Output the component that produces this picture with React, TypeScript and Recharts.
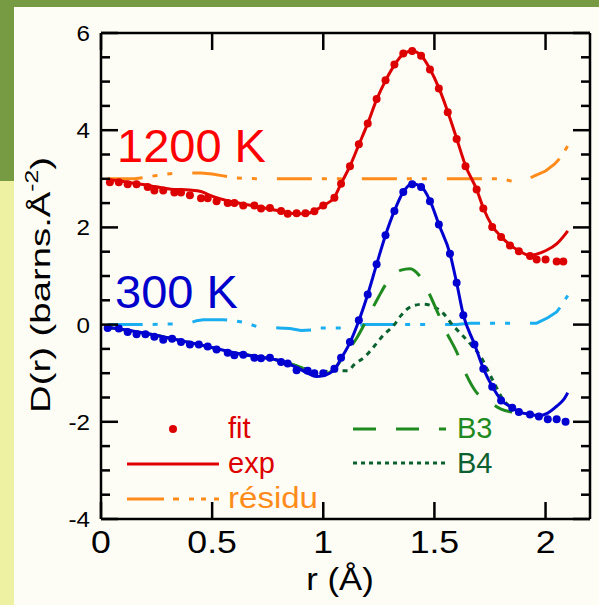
import { ComposedChart, Line, Scatter, XAxis, YAxis } from "recharts";

// 1200 K
const fitR1200 = [0.04, 0.08, 0.12, 0.16, 0.21, 0.24, 0.28, 0.33, 0.36, 0.4, 0.45, 0.48, 0.52, 0.57, 0.6, 0.64, 0.69, 0.72, 0.76, 0.81, 0.84, 0.88, 0.92, 0.96, 1.0, 1.05, 1.08, 1.12, 1.16, 1.2, 1.24, 1.28, 1.32, 1.36, 1.4, 1.44, 1.48, 1.52, 1.56, 1.6, 1.64, 1.69, 1.72, 1.76, 1.8, 1.84, 1.88, 1.93, 1.96, 2.0, 2.05, 2.08];
const fitD1200 = [2.93, 2.93, 2.89, 2.89, 2.83, 2.76, 2.76, 2.72, 2.72, 2.66, 2.6, 2.6, 2.54, 2.5, 2.5, 2.45, 2.45, 2.39, 2.4, 2.34, 2.28, 2.29, 2.29, 2.33, 2.45, 2.61, 2.9, 3.26, 3.71, 4.14, 4.64, 5.03, 5.35, 5.58, 5.63, 5.53, 5.25, 4.86, 4.37, 3.82, 3.26, 2.78, 2.39, 2.01, 1.8, 1.63, 1.51, 1.41, 1.34, 1.34, 1.3, 1.3];
const expR1200 = [0.03, 0.08, 0.12, 0.16, 0.21, 0.24, 0.28, 0.33, 0.36, 0.4, 0.45, 0.48, 0.52, 0.57, 0.6, 0.64, 0.69, 0.72, 0.76, 0.81, 0.84, 0.88, 0.92, 0.96, 1.0, 1.05, 1.08, 1.12, 1.16, 1.2, 1.24, 1.28, 1.32, 1.36, 1.4, 1.44, 1.48, 1.52, 1.56, 1.6, 1.64, 1.69, 1.72, 1.76, 1.8, 1.84, 1.88, 1.93, 1.96, 2.0, 2.05, 2.08, 2.1];
const expD1200 = [2.98, 2.96, 2.93, 2.9, 2.87, 2.84, 2.81, 2.78, 2.78, 2.77, 2.74, 2.68, 2.61, 2.55, 2.52, 2.48, 2.44, 2.41, 2.38, 2.33, 2.3, 2.28, 2.28, 2.34, 2.45, 2.62, 2.9, 3.26, 3.7, 4.14, 4.63, 5.02, 5.34, 5.57, 5.63, 5.54, 5.26, 4.87, 4.38, 3.83, 3.27, 2.78, 2.4, 2.03, 1.81, 1.64, 1.52, 1.42, 1.45, 1.52, 1.66, 1.81, 1.93];
const resR1200 = [0.03, 0.1, 0.15, 0.2, 0.25, 0.3, 0.35, 0.4, 0.45, 0.5, 0.55, 0.6, 0.7, 0.8, 0.9, 1.0, 1.1, 1.2, 1.3, 1.4, 1.5, 1.6, 1.7, 1.8, 1.84, 1.88, 1.91, 1.95, 2.0, 2.04, 2.07, 2.1];
const resD1200 = [3.0, 3.0, 3.0, 3.03, 3.07, 3.1, 3.12, 3.12, 3.12, 3.1, 3.06, 3.02, 3.0, 3.0, 3.0, 3.0, 3.0, 3.0, 3.0, 3.0, 3.0, 3.0, 3.0, 3.0, 2.96, 2.93, 2.97, 3.06, 3.16, 3.3, 3.45, 3.68];

// 300 K
const fitR300 = [0.03, 0.08, 0.12, 0.16, 0.2, 0.24, 0.28, 0.32, 0.36, 0.4, 0.44, 0.48, 0.52, 0.57, 0.6, 0.64, 0.69, 0.72, 0.76, 0.81, 0.84, 0.88, 0.93, 0.96, 1.0, 1.05, 1.08, 1.12, 1.16, 1.2, 1.24, 1.28, 1.32, 1.36, 1.4, 1.44, 1.48, 1.52, 1.57, 1.6, 1.63, 1.68, 1.72, 1.76, 1.8, 1.85, 1.88, 1.93, 1.97, 2.01, 2.05, 2.09];
const fitD300 = [-0.07, -0.08, -0.15, -0.2, -0.2, -0.25, -0.31, -0.29, -0.36, -0.41, -0.41, -0.45, -0.51, -0.58, -0.63, -0.62, -0.68, -0.69, -0.68, -0.77, -0.8, -0.94, -0.95, -1.0, -1.0, -0.91, -0.68, -0.36, 0.09, 0.62, 1.24, 1.84, 2.34, 2.73, 2.89, 2.83, 2.54, 2.06, 1.46, 0.86, 0.19, -0.41, -0.91, -1.28, -1.56, -1.71, -1.8, -1.85, -1.89, -1.95, -1.95, -2.0];
const expR300 = [0.03, 0.1, 0.2, 0.3, 0.4, 0.5, 0.6, 0.7, 0.8, 0.88, 0.93, 0.97, 1.0, 1.05, 1.08, 1.12, 1.16, 1.2, 1.24, 1.28, 1.32, 1.36, 1.4, 1.44, 1.48, 1.52, 1.57, 1.6, 1.63, 1.68, 1.72, 1.76, 1.8, 1.85, 1.88, 1.93, 1.97, 2.01, 2.05, 2.08, 2.1];
const expD300 = [-0.06, -0.1, -0.18, -0.27, -0.37, -0.47, -0.58, -0.66, -0.74, -0.88, -1.0, -1.07, -1.05, -0.93, -0.7, -0.37, 0.08, 0.62, 1.24, 1.84, 2.34, 2.73, 2.9, 2.84, 2.55, 2.06, 1.46, 0.86, 0.2, -0.4, -0.9, -1.27, -1.55, -1.71, -1.79, -1.85, -1.87, -1.82, -1.68, -1.55, -1.4];
const resR300 = [0.03, 0.1, 0.2, 0.3, 0.36, 0.4, 0.43, 0.46, 0.5, 0.55, 0.6, 0.65, 0.7, 0.8, 0.85, 0.9, 0.95, 0.98, 1.1, 1.15, 1.18, 1.3, 1.4, 1.5, 1.6, 1.66, 1.8, 1.96, 2.01, 2.05, 2.07, 2.1];
const resD300 = [0.0, 0.0, 0.0, 0.01, 0.02, 0.03, 0.08, 0.1, 0.1, 0.1, 0.08, 0.04, -0.04, -0.07, -0.08, -0.12, -0.11, -0.07, -0.07, -0.06, 0.0, 0.0, 0.0, 0.0, 0.0, 0.03, 0.03, 0.03, 0.14, 0.26, 0.38, 0.6];
const b3R = [0.03, 0.2, 0.4, 0.6, 0.8, 0.9, 0.97, 1.02, 1.06, 1.1, 1.15, 1.2, 1.25, 1.3, 1.35, 1.39, 1.43, 1.47, 1.51, 1.55, 1.6, 1.64, 1.69, 1.74, 1.8, 1.85];
const b3D = [-0.06, -0.18, -0.37, -0.58, -0.74, -0.88, -1.02, -1.0, -0.85, -0.6, -0.28, 0.14, 0.58, 0.95, 1.12, 1.15, 1.02, 0.7, 0.3, -0.12, -0.56, -1.0, -1.4, -1.56, -1.74, -1.8];
const b4R = [0.03, 0.2, 0.4, 0.6, 0.8, 0.9, 0.97, 1.02, 1.07, 1.11, 1.14, 1.19, 1.23, 1.27, 1.32, 1.35, 1.4, 1.45, 1.5, 1.54, 1.58, 1.63, 1.67, 1.71, 1.74, 1.77, 1.81, 1.85];
const b4D = [-0.06, -0.18, -0.37, -0.58, -0.74, -0.88, -0.98, -0.96, -0.95, -0.95, -0.82, -0.65, -0.44, -0.22, 0.0, 0.19, 0.38, 0.42, 0.36, 0.23, 0.0, -0.24, -0.44, -0.67, -0.94, -1.21, -1.55, -1.72];

const xTicks = [0, 0.5, 1, 1.5, 2];
const yTicks = [-4, -3.5, -3, -2.5, -2, -1.5, -1, -0.5, 0, 0.5, 1, 1.5, 2, 2.5, 3, 3.5, 4, 4.5, 5, 5.5, 6];

const FONT = "'Liberation Sans', Arial, Helvetica, sans-serif";
const RED = "#dd0000";
const BLUE = "#0000d0";
const ORANGE = "#ff8c1a";
const CYAN = "#1aaef0";
const GREEN3 = "#1f8a1f";
const GREEN4 = "#0b6230";

const pts = (r: number[], d: number[]) => r.map((x, i) => ({ r: x, d: d[i] }));

const isMajor = (v: number) => Math.abs(v % 2) < 1e-9;

function BottomTick({ x, y, payload }: any) {
  return (
    <g>
      <line x1={x} y1={y} x2={x} y2={y - 17} stroke="#000" strokeWidth={2.5} />
      <text transform={`translate(${x} ${y + 34}) scale(1.15 1)`} textAnchor="middle" fontSize={31} fontFamily={FONT} fill="#000">
        {payload.value}
      </text>
    </g>
  );
}

function TopTick({ x, y }: any) {
  return <line x1={x} y1={y} x2={x} y2={y + 17} stroke="#000" strokeWidth={2.5} />;
}

function LeftTick({ x, y, payload }: any) {
  const major = isMajor(payload.value);
  return (
    <g>
      <line x1={x} y1={y} x2={x + (major ? 17 : 9)} y2={y} stroke="#000" strokeWidth={2.5} />
      {major && (
        <text transform={`translate(${x - 11} ${y}) scale(1.1 1)`} dy="0.36em" textAnchor="end" fontSize={22} fontFamily={FONT} fill="#000">
          {payload.value}
        </text>
      )}
    </g>
  );
}

function RightTick({ x, y, payload }: any) {
  const major = isMajor(payload.value);
  return <line x1={x} y1={y} x2={x - (major ? 17 : 9)} y2={y} stroke="#000" strokeWidth={2.5} />;
}

const fitDot = (color: string) => (p: any) => <circle cx={p.cx} cy={p.cy} r={4} fill={color} />;

export default function App() {
  const axisLine = { stroke: "#000", strokeWidth: 2.5 };
  return (
    <div style={{ position: "absolute", left: 0, top: 0, width: 599, height: 605, background: "#fdfdf5", overflow: "hidden" }}>
      <div style={{ position: "absolute", left: 0, top: 0, width: 599, height: 7, background: "#779b43" }} />
      <div style={{ position: "absolute", left: 0, top: 0, width: 14, height: 181, background: "#779b43" }} />
      <div style={{ position: "absolute", left: 0, top: 181, width: 14, height: 424, background: "#eef0a2" }} />
      <div style={{ position: "absolute", left: 0, top: 0 }}>
        <ComposedChart width={599} height={605} margin={{ top: 32, right: 8, bottom: 0, left: 0 }}>
          <XAxis dataKey="r" type="number" domain={[0, 2.2]} ticks={xTicks} interval={0} tickSize={0} tickMargin={0} height={86} axisLine={axisLine} tickLine={false} tick={<BottomTick />} allowDataOverflow />
          <XAxis xAxisId="top" orientation="top" dataKey="r" type="number" domain={[0, 2.2]} ticks={xTicks} interval={0} tickSize={0} tickMargin={0} height={1} axisLine={axisLine} tickLine={false} tick={<TopTick />} allowDataOverflow />
          <YAxis type="number" domain={[-4, 6]} ticks={yTicks} interval={0} tickSize={0} tickMargin={0} width={101} axisLine={axisLine} tickLine={false} tick={<LeftTick />} allowDataOverflow />
          <YAxis yAxisId="right" orientation="right" type="number" domain={[-4, 6]} ticks={yTicks} interval={0} tickSize={0} tickMargin={0} width={1} axisLine={axisLine} tickLine={false} tick={<RightTick />} allowDataOverflow />

          <Line data={pts(resR1200, resD1200)} dataKey="d" type="linear" stroke={ORANGE} strokeWidth={3} strokeDasharray="35 10 5 10 5 20" dot={false} isAnimationActive={false} />
          <Line data={pts(resR300, resD300)} dataKey="d" type="linear" stroke={CYAN} strokeWidth={3} strokeDasharray="35 10 5 10 5 20" dot={false} isAnimationActive={false} />
          <Line data={pts(b4R, b4D)} dataKey="d" type="monotone" stroke={GREEN4} strokeWidth={3} strokeDasharray="5 5" dot={false} isAnimationActive={false} />
          <Line data={pts(b3R, b3D)} dataKey="d" type="monotone" stroke={GREEN3} strokeWidth={3} strokeDasharray="24 20" dot={false} isAnimationActive={false} />
          <Line data={pts(expR1200, expD1200)} dataKey="d" type="monotone" stroke={RED} strokeWidth={3} dot={false} isAnimationActive={false} />
          <Line data={pts(expR300, expD300)} dataKey="d" type="monotone" stroke={BLUE} strokeWidth={3} dot={false} isAnimationActive={false} />
          <Scatter data={pts(fitR1200, fitD1200)} dataKey="d" shape={fitDot(RED)} isAnimationActive={false} />
          <Scatter data={pts(fitR300, fitD300)} dataKey="d" shape={fitDot(BLUE)} isAnimationActive={false} />
        </ComposedChart>
      </div>
      <svg width={599} height={605} style={{ position: "absolute", left: 0, top: 0, pointerEvents: "none" }} fontFamily={FONT}>
        <text transform="translate(50 285) rotate(-90)" textAnchor="middle" fontSize={28} fill="#000" textLength={256} lengthAdjust="spacingAndGlyphs">
          D(r) (barns.Å<tspan dy={-12} fontSize={18}>-2</tspan><tspan dy={12} fontSize={28}>)</tspan>
        </text>
        <text transform="translate(340 590) scale(1.12 1)" textAnchor="middle" fontSize={31} fill="#000">r (Å)</text>
        <text x={117} y={162} fontSize={47} fill="#ff0000">1200 K</text>
        <text x={115} y={308} fontSize={47} fill="#0000cc">300 K</text>

        <circle cx={173} cy={429} r={4} fill={RED} />
        <text x={228} y={438} fontSize={29} fill={RED}>fit</text>
        <line x1={127} y1={464} x2={219} y2={464} stroke={RED} strokeWidth={3} />
        <text x={228} y={473} fontSize={29} fill={RED}>exp</text>
        <line x1={127} y1={499} x2={219} y2={499} stroke={ORANGE} strokeWidth={3} strokeDasharray="37 9 6 10 5 7 5 8 6" />
        <text x={228} y={508} fontSize={29} fill={ORANGE} textLength={90} lengthAdjust="spacingAndGlyphs">résidu</text>
        <line x1={353} y1={429} x2={447} y2={429} stroke={GREEN3} strokeWidth={3} strokeDasharray="23 20 23 20 7" />
        <text x={457} y={438} fontSize={29} fill={GREEN3}>B3</text>
        <line x1={353} y1={463} x2={447} y2={463} stroke={GREEN4} strokeWidth={3} strokeDasharray="4 4" />
        <text x={457} y={473} fontSize={29} fill={GREEN4}>B4</text>
      </svg>
    </div>
  );
}
